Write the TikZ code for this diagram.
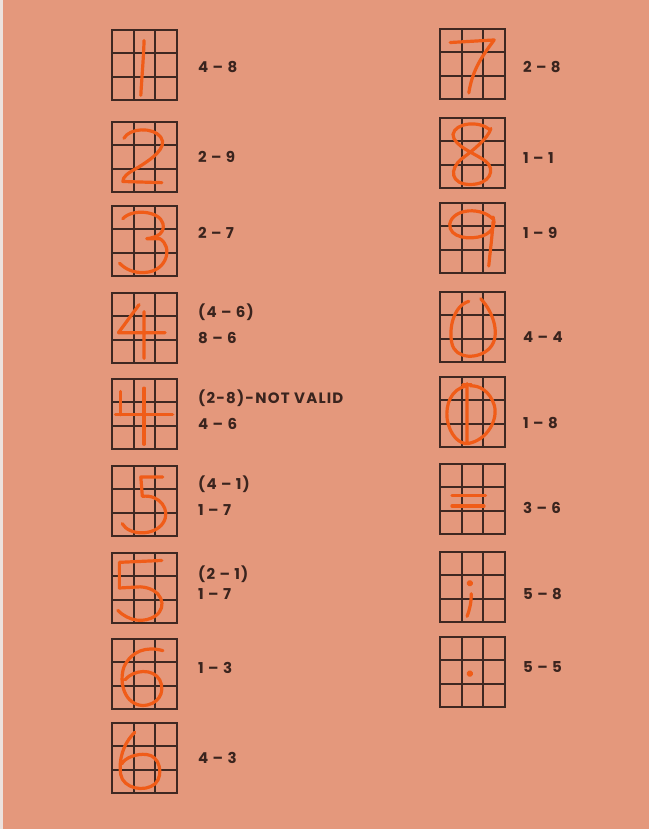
\documentclass[tikz,border=0pt]{standalone}
\usepackage{fontspec}
\setmainfont{Poppins}[LetterSpace=8]
\usetikzlibrary{positioning, calc}
\definecolor{paper}{RGB}{228,152,124}
\definecolor{paperedge}{RGB}{236,226,222}
\definecolor{gridline}{RGB}{62,40,34}
\definecolor{inkorange}{RGB}{240,92,24}
\definecolor{labeltext}{RGB}{58,36,30}
\tikzset{
    keypad/.style={rectangle, draw=gridline, line width=1.8pt, minimum width=65pt, minimum height=70pt, inner sep=0pt, outer sep=0pt,
        path picture={
            \foreach \k in {1,2} {
                \draw[gridline, line width=2pt] ($(path picture bounding box.north west)!\k/3!(path picture bounding box.north east)$) -- ($(path picture bounding box.south west)!\k/3!(path picture bounding box.south east)$);
                \draw[gridline, line width=2pt] ($(path picture bounding box.north west)!\k/3!(path picture bounding box.south west)$) -- ($(path picture bounding box.north east)!\k/3!(path picture bounding box.south east)$);
            }
        }},
    ink/.style={draw=inkorange, line width=3.2pt, line cap=round, line join=round},
    code/.style={font=\fontsize{15}{26}\selectfont\bfseries, text=labeltext, align=left, inner sep=0pt, anchor=west},
}
% glyph drawn in cell units of a keypad (0..3 across, 0..3 down)
\newcommand{\glyph}[2]{
    \begin{scope}[shift={(#1.north west)}, x=21.67pt, y=-23.33pt]
        \draw[ink] #2;
    \end{scope}
}

\begin{document}
\begin{tikzpicture}[x=1pt, y=-1pt]

% Paper
\fill[paper] (0,0) rectangle (649,829);
\fill[paperedge] (0,0) rectangle (3,829);
\useasboundingbox (0,0) rectangle (649,829);

% Left column keypads
\node[keypad, anchor=north west] (k-one) at (112,30) {};
\node[keypad, below=22pt of k-one] (k-two) {};
\node[keypad, below=14pt of k-two] (k-three) {};
\node[keypad, below=17pt of k-three] (k-four) {};
\node[keypad, below=16pt of k-four] (k-fourb) {};
\node[keypad, below=17pt of k-fourb] (k-five) {};
\node[keypad, below=17pt of k-five] (k-fiveb) {};
\node[keypad, below=16pt of k-fiveb] (k-six) {};
\node[keypad, below=14pt of k-six] (k-sixb) {};

% Right column keypads
\node[keypad, anchor=north west] (k-seven) at (440,29) {};
\node[keypad, below=19pt of k-seven] (k-eight) {};
\node[keypad, below=15pt of k-eight] (k-nine) {};
\node[keypad, below=19pt of k-nine] (k-zero) {};
\node[keypad, below=15pt of k-zero] (k-zerob) {};
\node[keypad, below=17pt of k-zerob] (k-equal) {};
\node[keypad, below=18pt of k-equal] (k-semi) {};
\node[keypad, below=15pt of k-semi] (k-dot) {};

% Left column labels
\node[code, right=21pt of k-one, yshift=-2pt] (l-one) {4 – 8};
\node[code, right=21pt of k-two] (l-two) {2 – 9};
\node[code, right=21pt of k-three, yshift=8pt] (l-three) {2 – 7};
\node[code, right=21pt of k-four, yshift=4pt] (l-four) {(4 – 6)\\8 – 6};
\node[code, right=21pt of k-fourb, yshift=4pt] (l-fourb) {(2-8)-NOT VALID\\4 – 6};
\node[code, right=21pt of k-five, yshift=5pt] (l-five) {(4 – 1)\\1 – 7};
\node[code, right=21pt of k-fiveb, yshift=5pt] (l-fiveb) {(2 – 1)\\[-6pt]1 – 7};
\node[code, right=21pt of k-six, yshift=6pt] (l-six) {1 – 3};
\node[code, right=21pt of k-sixb] (l-sixb) {4 – 3};

% Right column labels
\node[code, right=18pt of k-seven, yshift=-3pt] (l-seven) {2 – 8};
\node[code, right=18pt of k-eight, yshift=-5pt] (l-eight) {1 – 1};
\node[code, right=18pt of k-nine, yshift=5pt] (l-nine) {1 – 9};
\node[code, right=18pt of k-zero, yshift=-10pt] (l-zero) {4 – 4};
\node[code, right=18pt of k-zerob, yshift=-11pt] (l-zerob) {1 – 8};
\node[code, right=18pt of k-equal, yshift=-9pt] (l-equal) {3 – 6};
\node[code, right=18pt of k-semi, yshift=-7pt] (l-semi) {5 – 8};
\node[code, right=18pt of k-dot, yshift=5pt] (l-dot) {5 – 5};

% Handwritten glyphs
\glyph{k-one}{(1.48,0.45) .. controls (1.45,1.3) and (1.37,2.1) .. (1.33,2.8)}
\glyph{k-two}{(0.55,0.7) .. controls (0.8,0.25) and (1.9,0.2) .. (2.25,0.65) .. controls (2.6,1.1) and (1.8,1.6) .. (1.2,1.95) .. controls (0.7,2.2) and (0.5,2.35) .. (0.5,2.55) -- (2.3,2.6)}
\glyph{k-three}{(0.5,0.55) .. controls (0.9,0.1) and (2.2,0.2) .. (2.35,0.75) .. controls (2.45,1.15) and (2.1,1.35) .. (1.6,1.4) -- (2.2,1.4) .. controls (2.8,1.7) and (2.6,2.8) .. (1.5,2.85) .. controls (1.0,2.88) and (0.6,2.7) .. (0.35,2.45)}
\glyph{k-four}{(1.25,0.5) -- (0.3,1.7) -- (2.45,1.7) (1.48,0.8) -- (1.48,2.8)}
\glyph{k-fourb}{(0.4,0.53) -- (0.4,1.53) (0.16,1.53) -- (2.8,1.53) (1.48,0.39) -- (1.48,2.8)}
\glyph{k-five}{(2.34,0.47) -- (1.33,0.47) -- (1.4,1.3) .. controls (2.2,1.2) and (2.75,1.9) .. (2.35,2.45) .. controls (1.95,3.0) and (0.8,3.0) .. (0.47,2.47)}
\glyph{k-fiveb}{(2.3,0.32) -- (0.34,0.4) -- (0.34,1.5) -- (1.3,1.45) .. controls (2.3,1.5) and (2.6,2.3) .. (2.0,2.7) .. controls (1.5,3.0) and (0.8,2.95) .. (0.27,2.46)}
\glyph{k-six}{(2.35,0.5) .. controls (1.6,0.3) and (0.9,0.5) .. (0.55,1.2) .. controls (0.3,1.9) and (0.6,2.8) .. (1.4,2.85) .. controls (2.1,2.85) and (2.5,2.3) .. (2.2,1.75) .. controls (1.9,1.25) and (1.0,1.3) .. (0.6,1.75)}
\glyph{k-sixb}{(1.05,0.4) .. controls (0.5,0.9) and (0.3,1.6) .. (0.4,2.2) .. controls (0.5,2.8) and (1.5,3.0) .. (2.0,2.6) .. controls (2.4,2.2) and (2.2,1.4) .. (1.6,1.35) .. controls (1.1,1.3) and (0.6,1.5) .. (0.45,1.75)}
\glyph{k-seven}{(0.47,0.58) -- (2.5,0.47) .. controls (2.0,1.1) and (1.5,1.7) .. (1.33,2.74)}
\glyph{k-eight}{(2.3,0.5) .. controls (1.8,0.1) and (0.7,0.2) .. (0.6,0.7) .. controls (0.6,1.2) and (1.6,1.5) .. (2.1,1.85) .. controls (2.6,2.2) and (2.3,2.85) .. (1.4,2.85) .. controls (0.5,2.85) and (0.4,2.2) .. (1.0,1.75) .. controls (1.5,1.4) and (2.2,0.9) .. (2.35,0.45)}
\glyph{k-nine}{(2.5,0.75) .. controls (2.0,0.15) and (0.6,0.2) .. (0.45,0.9) .. controls (0.4,1.5) and (1.4,1.6) .. (2.0,1.4) .. controls (2.5,1.2) and (2.55,0.9) .. (2.45,0.6) (2.45,0.8) .. controls (2.4,1.5) and (2.3,2.2) .. (2.25,2.7)}
\glyph{k-zero}{(1.33,0.4) .. controls (0.6,0.6) and (0.4,1.6) .. (0.55,2.2) .. controls (0.7,2.9) and (1.8,2.9) .. (2.3,2.4) .. controls (2.8,1.9) and (2.5,0.9) .. (1.88,0.29)}
\glyph{k-zerob}{(1.25,0.38) .. controls (0.5,0.5) and (0.25,1.2) .. (0.33,1.8) .. controls (0.45,2.5) and (0.9,2.9) .. (1.3,2.85) .. controls (2.2,2.7) and (2.7,1.8) .. (2.5,1.2) .. controls (2.3,0.6) and (1.8,0.35) .. (1.4,0.38) (1.25,0.28) -- (1.25,2.85) (1.05,0.33) -- (1.45,0.33)}
\glyph{k-equal}{(0.55,1.36) -- (2.1,1.36) (0.55,1.8) -- (2.03,1.8)}
\glyph{k-semi}{(1.38,1.34) circle[radius=1.8pt] (1.44,1.79) .. controls (1.45,2.2) and (1.35,2.5) .. (1.25,2.76)}
\glyph{k-dot}{(1.38,1.57) circle[radius=1.8pt]}

\end{tikzpicture}
\end{document}
